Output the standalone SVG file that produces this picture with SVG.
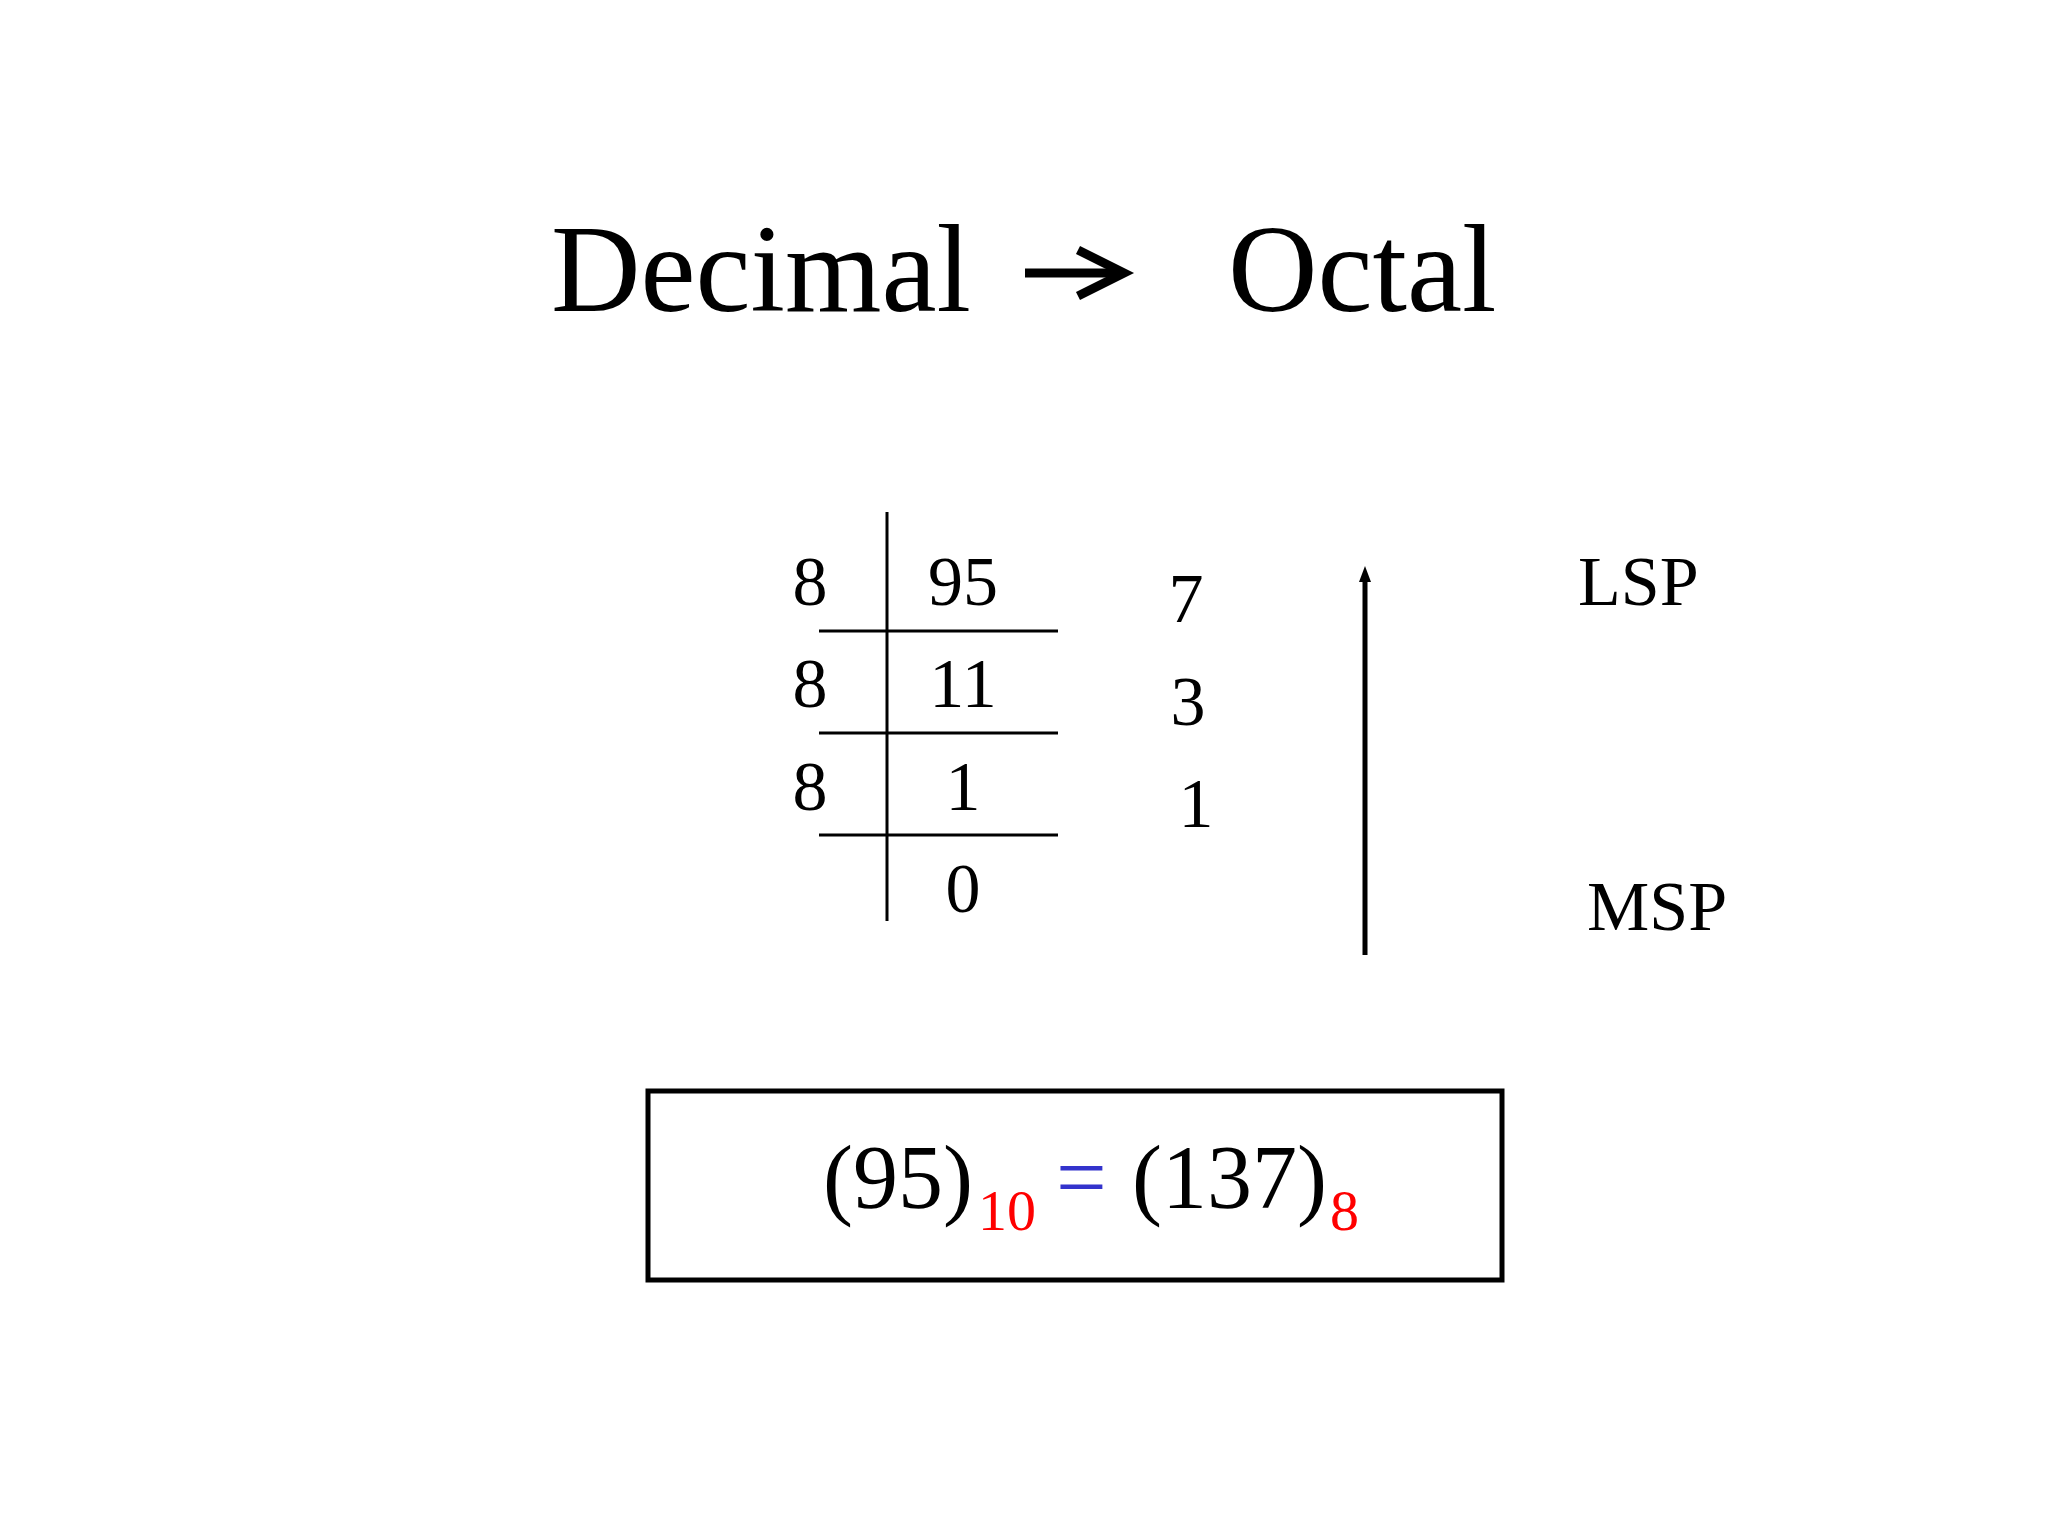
<svg xmlns="http://www.w3.org/2000/svg" width="2048" height="1536" viewBox="0 0 2048 1536">
<style>
text{font-family:"Liberation Serif","Times New Roman",serif;fill:#000}
.n{font-size:70px}
.l{stroke:#000;stroke-width:3}
</style>
<defs><marker id="ah" markerWidth="16" markerHeight="12" refX="2" refY="6" orient="auto" markerUnits="userSpaceOnUse"><path d="M0,0 L16,6 L0,12 Z" fill="#000"/></marker></defs>
<rect width="2048" height="1536" fill="#fff"/>
<g id="title">
<text x="551" y="311" font-size="124">Decimal</text>
<path d="M1025,273 H1118" stroke="#000" stroke-width="9"/>
<path d="M1078,250 L1124,273 L1078,296" fill="none" stroke="#000" stroke-width="9"/>
<text x="1228" y="311" font-size="124">Octal</text>
</g>
<g id="table">
<line class="l" x1="887" y1="512" x2="887" y2="921"/>
<line class="l" x1="819" y1="631" x2="1058" y2="631"/>
<line class="l" x1="819" y1="733" x2="1058" y2="733"/>
<line class="l" x1="819" y1="835" x2="1058" y2="835"/>
<text class="n" x="810" y="605" text-anchor="middle">8</text>
<text class="n" x="810" y="707" text-anchor="middle">8</text>
<text class="n" x="810" y="810" text-anchor="middle">8</text>
<text class="n" x="963" y="605" text-anchor="middle">95</text>
<text class="n" x="963" y="707" text-anchor="middle">11</text>
<text class="n" x="963" y="810" text-anchor="middle">1</text>
<text class="n" x="963" y="912" text-anchor="middle">0</text>
<text class="n" x="1186" y="622" text-anchor="middle">7</text>
<text class="n" x="1188" y="725" text-anchor="middle">3</text>
<text class="n" x="1196" y="827" text-anchor="middle">1</text>
</g>
<g id="connectors">
<line x1="1365" y1="955" x2="1365" y2="580" stroke="#000" stroke-width="5" marker-end="url(#ah)"/>
</g>
<g id="labels">
<text class="n" x="1578" y="605">LSP</text>
<text class="n" x="1587" y="930">MSP</text>
</g>
<g id="result">
<rect x="648" y="1091" width="854" height="189" fill="none" stroke="#000" stroke-width="5"/>
<text x="823" y="1208" font-size="90">(95)</text>
<text x="978" y="1230" font-size="58" style="fill:#f00">10</text>
<text x="1056" y="1208" font-size="90" style="fill:#33c">=</text>
<text x="1132" y="1208" font-size="90">(137)</text>
<text x="1330" y="1230" font-size="58" style="fill:#f00">8</text>
</g>
</svg>
